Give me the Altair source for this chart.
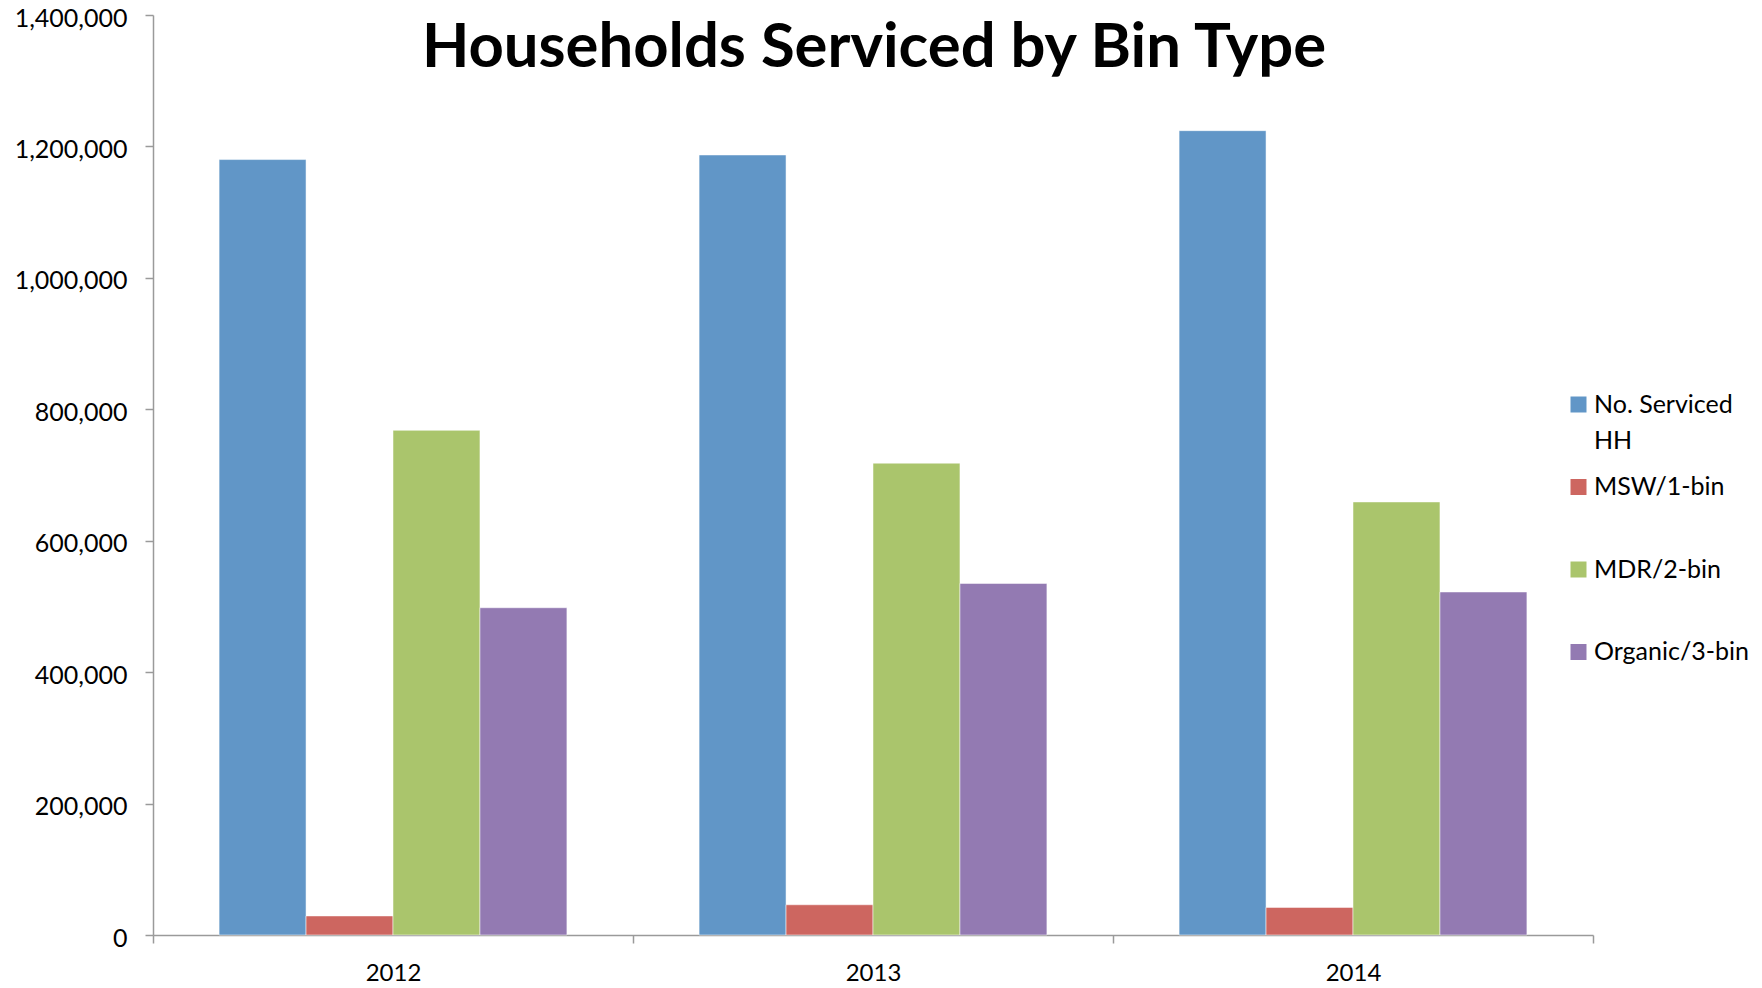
import altair as alt
import pandas as pd

title_text = "Households Serviced by Bin Type"
years = ["2012", "2013", "2014"]
series = ["No. Serviced HH", "MSW/1-bin", "MDR/2-bin", "Organic/3-bin"]
serviced_hh = [1180000, 1187000, 1224000]
msw_1bin = [29000, 46000, 42000]
mdr_2bin = [768000, 718000, 659000]
organic_3bin = [498000, 535000, 522000]
colors = ["#6196C7", "#CD6660", "#AAC56C", "#937AB2"]
y_ticks = [0, 200000, 400000, 600000, 800000, 1000000, 1200000, 1400000]

rows = []
for name, vals in zip(series, [serviced_hh, msw_1bin, mdr_2bin, organic_3bin]):
    for yr, v in zip(years, vals):
        rows.append({"Year": yr, "Series": name, "Value": v})
df = pd.DataFrame(rows)

FONT = "Lato"

bars = alt.Chart(df).mark_bar(stroke="#ffffff", strokeOpacity=0.5, strokeWidth=1).encode(
    x=alt.X("Year:N", sort=years, title=None,
            scale=alt.Scale(paddingInner=0, paddingOuter=0),
            axis=alt.Axis(labelAngle=0, tickBand="extent", tickSize=8,
                          labelPadding=18, labelFontSize=24, labelFont=FONT,
                          labelLineHeight=24,
                          labelColor="#000000", domainColor="#9a9a9a",
                          tickColor="#9a9a9a", domainWidth=1.5, tickWidth=1.5)),
    xOffset=alt.XOffset("Series:N", sort=series,
                        scale=alt.Scale(paddingInner=0, paddingOuter=0.76)),
    y=alt.Y("Value:Q", title=None,
            scale=alt.Scale(domain=[0, 1400000], nice=False),
            axis=alt.Axis(values=y_ticks, format=",d", grid=False, tickSize=8,
                          labelPadding=18, labelFontSize=25, labelFont=FONT,
                          labelLineHeight=25, labelOffset=3,
                          labelColor="#000000", domainColor="#9a9a9a",
                          tickColor="#9a9a9a", domainWidth=1.5, tickWidth=1.5)),
    color=alt.Color("Series:N", sort=series,
                    scale=alt.Scale(domain=series, range=colors),
                    legend=alt.Legend(
                        title=None, orient="none", legendX=1413, legendY=377,
                        symbolType="square", symbolSize=256, symbolStrokeWidth=0,
                        labelFont=FONT, labelFontSize=25, labelColor="#000000",
                        labelOffset=3, labelLimit=400, rowPadding=20.5,
                        labelBaseline="middle",
                        labelExpr="datum.label == 'No. Serviced HH' ? ['No. Serviced', 'HH'] : [datum.label, ' ']",
                    )),
)

title = alt.Chart(pd.DataFrame({"t": [title_text]})).mark_text(
    font=FONT, fontSize=61.6, fontWeight="bold", color="#000000",
    align="center", baseline="alphabetic", lineHeight=62,
).encode(text="t:N", x=alt.value(721), y=alt.value(52))

chart = alt.layer(bars, title).properties(
    width=1440,
    height=920,
    autosize=alt.AutoSizeParams(type="none"),
    padding={"left": 145, "top": 7, "right": 161, "bottom": 52},
).configure(
    background="#ffffff",
    view=alt.ViewConfig(stroke="transparent", strokeWidth=0),
    style={"guide-label": {"lineHeight": 36}},
)

chart.save("out.html", embed_options={"renderer": "svg", "actions": False})
